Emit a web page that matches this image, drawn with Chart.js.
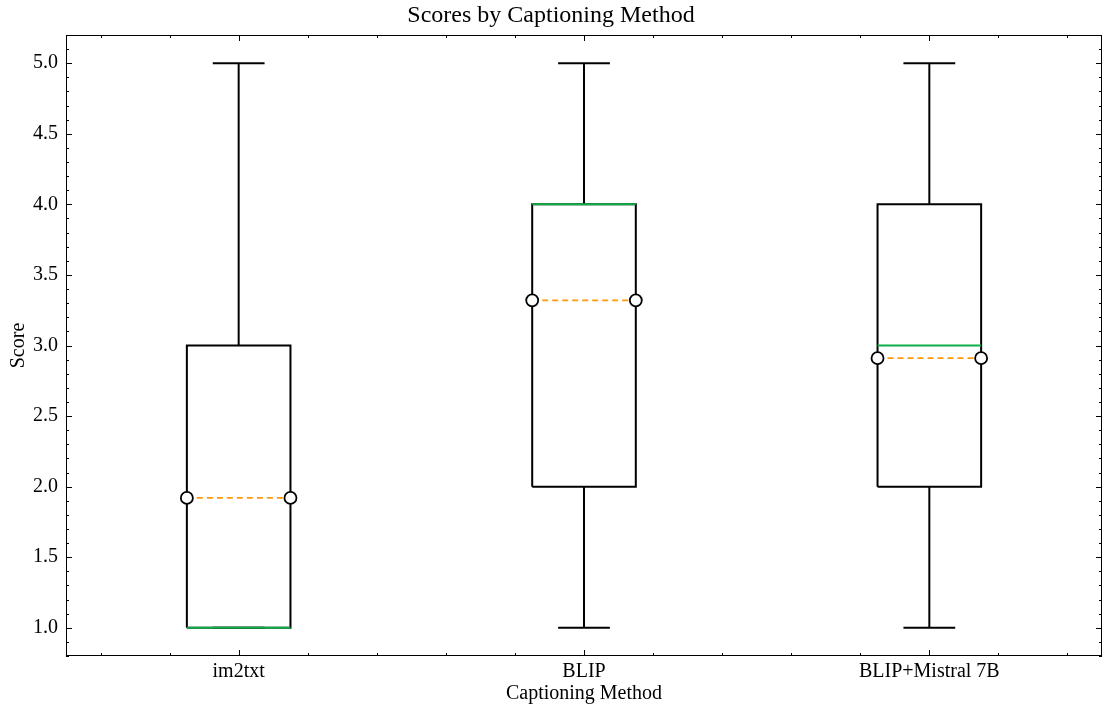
<!DOCTYPE html>
<html>
<head>
<meta charset="utf-8">
<script src="https://cdn.jsdelivr.net/npm/chart.js@4"></script>
<style>
  html, body { margin: 0; padding: 0; background: #fff; overflow: hidden; }
  canvas { display: block; }
</style>
</head>
<body>
<canvas id="boxChart" width="1103" height="708"></canvas>
<script>
// data
const categories = ['im2txt', 'BLIP', 'BLIP+Mistral 7B'];
const whiskerLow = [1, 1, 1];
const quartile1 = [1, 2, 2];
const medians = [1, 4, 3];
const quartile3 = [3, 4, 4];
const whiskerHigh = [5, 5, 5];
const means = [1.92, 3.32, 2.91];
const yTickValues = [1.0, 1.5, 2.0, 2.5, 3.0, 3.5, 4.0, 4.5, 5.0];

const BOX_HALF = 0.15;
const CAP_HALF = 0.075;
const FONT = "'Liberation Serif', 'DejaVu Serif', serif";

const line = (pts, color, width, order, extra) => Object.assign({
    data: pts,
    borderColor: color,
    borderWidth: width,
    pointRadius: 0,
    fill: false,
    tension: 0,
    order: order
}, extra || {});

const datasets = [];
categories.forEach((c, i) => {
    const p = i + 1;
    // box
    datasets.push(line([
        { x: p - BOX_HALF, y: quartile1[i] }, { x: p + BOX_HALF, y: quartile1[i] },
        { x: p + BOX_HALF, y: quartile3[i] }, { x: p - BOX_HALF, y: quartile3[i] },
        { x: p - BOX_HALF, y: quartile1[i] }
    ], '#000', 2, 3));
    // whiskers
    datasets.push(line([{ x: p, y: quartile3[i] }, { x: p, y: whiskerHigh[i] }], '#000', 2, 3));
    datasets.push(line([{ x: p, y: whiskerLow[i] }, { x: p, y: quartile1[i] }], '#000', 2, 3));
    // caps
    datasets.push(line([{ x: p - CAP_HALF, y: whiskerHigh[i] }, { x: p + CAP_HALF, y: whiskerHigh[i] }], '#000', 2, 3));
    datasets.push(line([{ x: p - CAP_HALF, y: whiskerLow[i] }, { x: p + CAP_HALF, y: whiskerLow[i] }], '#000', 2, 3));
    // median
    datasets.push(line([{ x: p - BOX_HALF, y: medians[i] }, { x: p + BOX_HALF, y: medians[i] }], '#0fae48', 2, 1));
    // mean
    datasets.push(line([{ x: p - BOX_HALF, y: means[i] }, { x: p + BOX_HALF, y: means[i] }], '#ff9a0e', 1.8, 0, {
        borderDash: [6, 4],
        pointRadius: 6,
        pointBackgroundColor: '#fff',
        pointBorderColor: '#000',
        pointBorderWidth: 1.8
    }));
});

// frame and inward ticks on all four sides
const framePlugin = {
    id: 'frame',
    beforeDatasetsDraw(chart) {
        const { ctx, chartArea: { left, right, top, bottom }, scales: { x, y } } = chart;
        ctx.save();
        ctx.strokeStyle = '#000';
        ctx.lineWidth = 1;
        ctx.strokeRect(left + 0.5, top + 0.5, right - left - 1, bottom - top - 1);
        ctx.beginPath();
        for (let k = 8; k <= 52; k++) {
            const py = Math.round(y.getPixelForValue(k / 10)) + 0.5;
            const len = k % 5 === 0 ? 6 : 3;
            ctx.moveTo(left, py); ctx.lineTo(left + len, py);
            ctx.moveTo(right, py); ctx.lineTo(right - len, py);
        }
        for (let k = 3; k <= 17; k++) {
            const px = Math.round(x.getPixelForValue(k / 5)) + 0.5;
            const len = k % 5 === 0 ? 6 : 3;
            ctx.moveTo(px, bottom); ctx.lineTo(px, bottom - len);
            ctx.moveTo(px, top); ctx.lineTo(px, top + len);
        }
        ctx.stroke();
        ctx.restore();
    }
};

const ctx1 = document.getElementById('boxChart').getContext('2d');
new Chart(ctx1, {
    type: 'line',
    data: { datasets: datasets },
    options: {
        responsive: false,
        animation: false,
        events: [],
        layout: { autoPadding: false, padding: { left: 0, right: 1, top: 0, bottom: 0 } },
        plugins: {
            legend: { display: false },
            tooltip: { enabled: false },
            title: {
                display: true,
                text: 'Scores by Captioning Method',
                color: '#000',
                font: { family: FONT, size: 24, weight: 'normal' },
                padding: { top: 1.6, bottom: 4.6 }
            }
        },
        scales: {
            x: {
                type: 'linear',
                min: 0.5,
                max: 3.5,
                afterBuildTicks: s => { s.ticks = categories.map((c, i) => ({ value: i + 1 })); },
                afterFit: s => { s.height = 52; s.paddingLeft = 0; s.paddingRight = 0; },
                ticks: {
                    autoSkip: false,
                    maxRotation: 0,
                    padding: 4,
                    color: '#000',
                    font: { family: FONT, size: 20 },
                    callback: v => categories[v - 1]
                },
                grid: { display: false, drawTicks: false },
                border: { display: false },
                title: {
                    display: true,
                    text: 'Captioning Method',
                    color: '#000',
                    font: { family: FONT, size: 20 },
                    padding: { top: 0, bottom: 2 }
                }
            },
            y: {
                type: 'linear',
                min: 0.8,
                max: 5.2,
                afterBuildTicks: s => { s.ticks = yTickValues.map(v => ({ value: v })); },
                afterFit: s => { s.width = 66; },
                ticks: {
                    padding: 8,
                    color: '#000',
                    font: { family: FONT, size: 20 },
                    callback: v => v.toFixed(1)
                },
                grid: { display: false, drawTicks: false },
                border: { display: false },
                title: {
                    display: true,
                    text: 'Score',
                    color: '#000',
                    font: { family: FONT, size: 20 },
                    padding: { top: 7, bottom: 0 }
                }
            }
        }
    },
    plugins: [framePlugin]
});
</script>
</body>
</html>
